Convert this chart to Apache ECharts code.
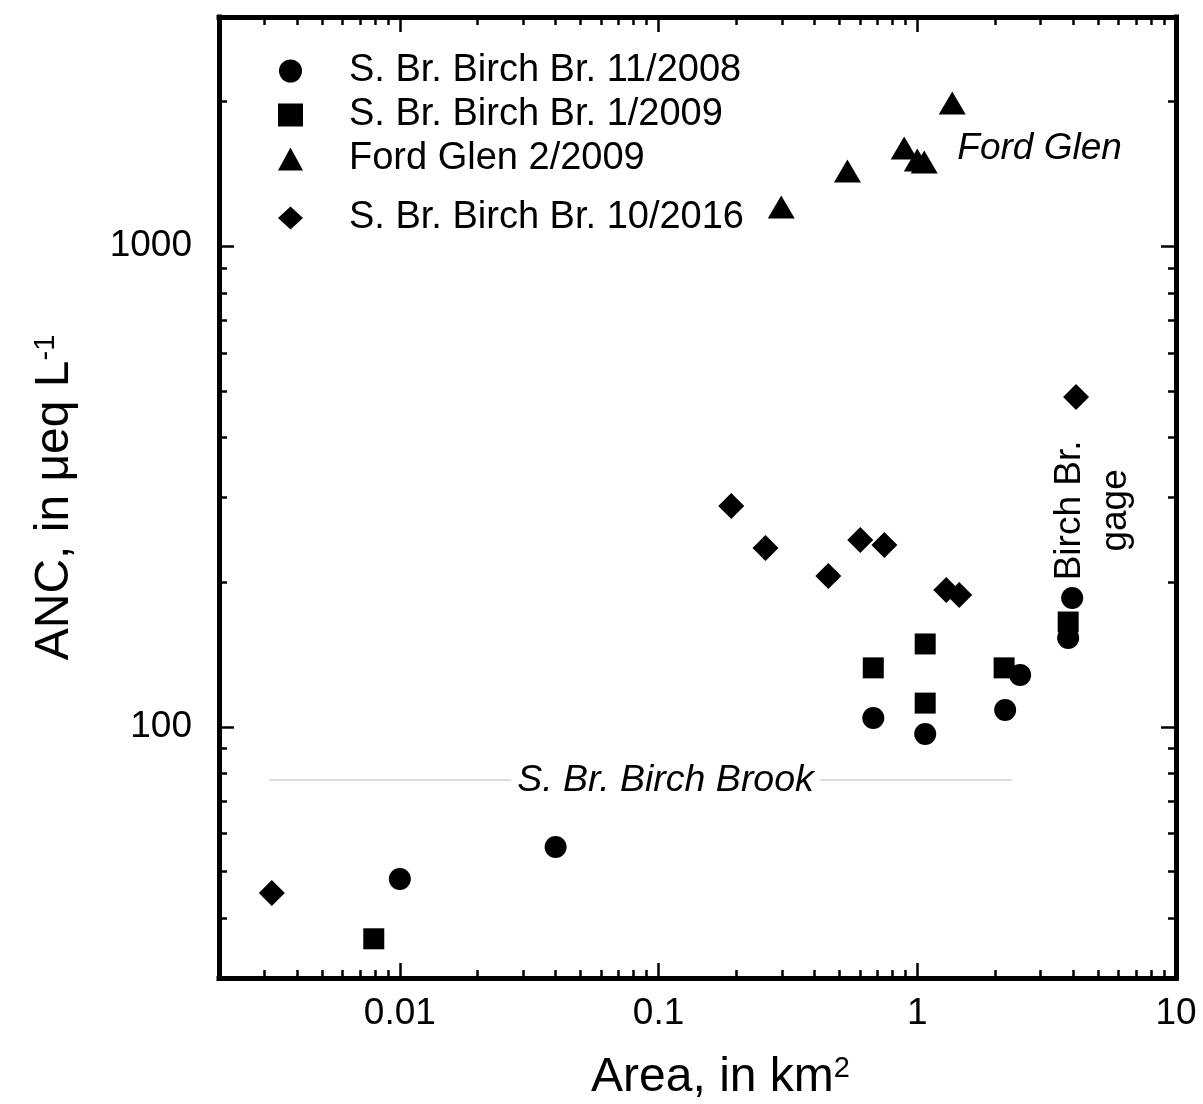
<!DOCTYPE html>
<html>
<head>
<meta charset="utf-8">
<script src="https://cdn.jsdelivr.net/npm/echarts@6/dist/echarts.min.js"></script>
<style>
  html, body { margin: 0; padding: 0; background: #fff; }
  #chart { width: 1203px; height: 1104px; }
</style>
</head>
<body>
<div id="chart"></div>
<script>
const FONT = '"Liberation Sans", Arial, sans-serif';

const seriesNames = [
  'S. Br. Birch Br. 11/2008',
  'S. Br. Birch Br. 1/2009',
  'Ford Glen 2/2009',
  'S. Br. Birch Br. 10/2016'
];

// [area km2, ANC ueq/L]
const birch2008 = [
  [0.0100, 48.2], [0.0400, 56.2], [0.676, 104.3], [1.073, 96.6],
  [2.186, 108.4], [2.498, 128.2], [3.83, 153.0], [3.97, 185.3]
];
const birch2009 = [
  [0.00793, 36.2], [0.676, 132.6], [1.073, 148.7], [1.073, 112.0],
  [2.166, 132.6], [3.83, 165.2]
];
const fordGlen2009 = [
  [0.298, 1207], [0.537, 1434], [0.890, 1601], [1.0, 1512],
  [1.064, 1497], [1.365, 1987]
];
const birch2016 = [
  [0.00320, 45.1], [0.191, 288], [0.259, 235.5], [0.453, 205.9],
  [0.602, 244.7], [0.746, 238.9], [1.294, 192.6], [1.452, 188.0],
  [4.11, 485.7]
];

// annotations
const brookLine = [[0.00312, 77.4], [2.33, 77.4]];
const brookLabelAt = [0.1064, 77.4];
const fordLabelAt = [1.427, 1594];
const gageLabelAt = [4.78, 282];

const xRange = [0.002, 10];
const yRange = [30, 3000];
const xLabelTicks = [0.01, 0.1, 1, 10];
const yLabelTicks = [100, 1000];
const minorSteps = [2, 3, 4, 5, 6, 7, 8, 9];

function decadeTicks(range) {
  const out = [];
  for (let e = Math.ceil(Math.log10(range[0])); Math.pow(10, e) < range[1]; e++) {
    const v = +Math.pow(10, e).toPrecision(6);
    if (v > range[0]) out.push(v);
  }
  return out;
}
function minorTicks(range) {
  const out = [];
  for (let e = Math.floor(Math.log10(range[0])); e < Math.ceil(Math.log10(range[1])); e++) {
    minorSteps.forEach(m => {
      const v = +(m * Math.pow(10, e)).toPrecision(6);
      if (v > range[0] && v < range[1]) out.push(v);
    });
  }
  return out;
}

function tickAxis(range, position, values, len, withLine) {
  return {
    type: 'log',
    logBase: 10,
    position: position,
    min: range[0],
    max: range[1],
    axisLine: { show: withLine, onZero: false, lineStyle: { color: '#000', width: 5, cap: 'square' } },
    axisTick: {
      show: true, inside: true, length: len, customValues: values,
      lineStyle: { color: '#000', width: 2.5 }
    },
    axisLabel: { show: false },
    splitLine: { show: false },
    minorTick: { show: false }
  };
}

const labelFmt = v => String(+v.toPrecision(6));
const supStyle = { fontFamily: FONT, fontSize: 29, color: '#000', verticalAlign: 'top' };

const xBottom = tickAxis(xRange, 'bottom', decadeTicks(xRange), 15, true);
xBottom.axisLabel = {
  show: true, customValues: xLabelTicks, formatter: labelFmt,
  color: '#000', fontFamily: FONT, fontSize: 37, margin: 17
};
xBottom.name = 'Area, in km{sup|2}';
xBottom.nameLocation = 'middle';
xBottom.nameGap = 76;
xBottom.nameTextStyle = {
  color: '#000', fontFamily: FONT, fontSize: 48, padding: [0, 0, 0, 46],
  rich: { sup: supStyle }
};

const yLeft = tickAxis(yRange, 'left', decadeTicks(yRange), 15, true);
yLeft.axisLabel = {
  show: true, customValues: yLabelTicks, formatter: labelFmt,
  color: '#000', fontFamily: FONT, fontSize: 37, margin: 27
};
yLeft.name = 'ANC, in \u03bceq L{sup|-1}';
yLeft.nameLocation = 'middle';
yLeft.nameGap = 140;
yLeft.nameTextStyle = {
  color: '#000', fontFamily: FONT, fontSize: 48,
  rich: { sup: supStyle }
};

const legendText = {
  color: '#000', fontFamily: FONT, fontSize: 38, lineHeight: 36, padding: [0, 0, 0, 41]
};

const chart = echarts.init(document.getElementById('chart'));

chart.setOption({
  animation: false,
  backgroundColor: '#fff',
  grid: { left: 219, right: 27, top: 17, bottom: 126, outerBoundsMode: 'none' },
  xAxis: [
    xBottom,
    tickAxis(xRange, 'bottom', minorTicks(xRange), 8, false),
    tickAxis(xRange, 'top', decadeTicks(xRange), 15, true),
    tickAxis(xRange, 'top', minorTicks(xRange), 8, false)
  ],
  yAxis: [
    yLeft,
    tickAxis(yRange, 'left', minorTicks(yRange), 8, false),
    tickAxis(yRange, 'right', decadeTicks(yRange), 15, true),
    tickAxis(yRange, 'right', minorTicks(yRange), 8, false)
  ],
  legend: [
    {
      data: seriesNames.slice(0, 3), orient: 'vertical', left: 273, top: 47,
      itemWidth: 25, itemHeight: 23, itemGap: 6, selectedMode: false,
      textStyle: legendText
    },
    {
      data: seriesNames.slice(3), orient: 'vertical', left: 273, top: 194,
      itemWidth: 25, itemHeight: 23, selectedMode: false,
      textStyle: legendText
    }
  ],
  series: [
    {
      type: 'line', data: brookLine, symbol: 'none', silent: true, z: 1,
      lineStyle: { color: '#c8c8c8', width: 1.2 }
    },
    {
      name: seriesNames[0], type: 'scatter', symbol: 'circle', symbolSize: 22,
      data: birch2008, itemStyle: { color: '#000', opacity: 1 }
    },
    {
      name: seriesNames[1], type: 'scatter', symbol: 'rect', symbolSize: 21,
      data: birch2009, itemStyle: { color: '#000', opacity: 1 }
    },
    {
      name: seriesNames[2], type: 'scatter', symbol: 'triangle', symbolSize: [27, 23],
      data: fordGlen2009, itemStyle: { color: '#000', opacity: 1 }
    },
    {
      name: seriesNames[3], type: 'scatter', symbol: 'diamond', symbolSize: 26,
      data: birch2016, itemStyle: { color: '#000', opacity: 1 }
    },
    {
      type: 'scatter', silent: true, symbolSize: 0.1, z: 3,
      itemStyle: { color: '#fff', opacity: 1 },
      data: [
        {
          value: brookLabelAt,
          label: {
            show: true, position: 'inside', formatter: 'S. Br. Birch Brook',
            fontStyle: 'italic', fontSize: 37.5, fontFamily: FONT, color: '#000', opacity: 1,
            backgroundColor: '#fff', padding: [2, 6]
          }
        },
        {
          value: fordLabelAt,
          label: {
            show: true, position: 'right', distance: 0, formatter: 'Ford Glen',
            fontStyle: 'italic', fontSize: 37, fontFamily: FONT, color: '#000', opacity: 1
          }
        },
        {
          value: gageLabelAt,
          label: {
            show: true, position: 'inside', rotate: 90, formatter: 'Birch Br.\ngage',
            align: 'center', lineHeight: 46, fontSize: 37, fontFamily: FONT, color: '#000', opacity: 1
          }
        }
      ]
    }
  ]
});
</script>
</body>
</html>
